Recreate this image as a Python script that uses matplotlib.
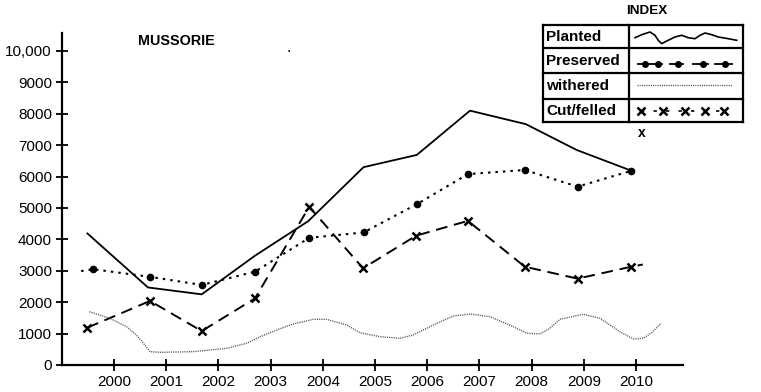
import matplotlib
matplotlib.use('Agg')
import matplotlib.pyplot as plt
from matplotlib.ticker import FuncFormatter

plt.rcParams['font.family'] = ['Liberation Sans', 'DejaVu Sans']

# values (x = position in years as drawn)
tick_years = list(range(2000, 2011))
y_ticks = list(range(0, 10001, 1000))

planted_x = [1999.49, 2000.65, 2001.68, 2002.70, 2003.72, 2004.78, 2005.80, 2006.82, 2007.89, 2008.86, 2009.89]
planted = [4190, 2470, 2250, 3480, 4580, 6300, 6690, 8100, 7670, 6850, 6200]

preserved_x = [1999.37, 1999.60, 2000.68, 2001.68, 2002.70, 2003.74, 2004.78, 2005.80, 2006.78, 2007.87, 2008.88, 2009.90]
preserved = [2990, 3050, 2810, 2550, 2970, 4050, 4220, 5120, 6080, 6210, 5680, 6180]

cut_x = [1999.49, 2000.69, 2001.68, 2002.70, 2003.74, 2004.77, 2005.79, 2006.78, 2007.87, 2008.88, 2009.91, 2010.13]
cut = [1190, 2040, 1080, 2120, 5040, 3080, 4120, 4590, 3130, 2750, 3130, 3200]

withered_x = [1999.53, 1999.92, 2000.24, 2000.43, 2000.59, 2000.69, 2000.88, 2001.52, 2002.16,
              2002.54, 2002.80, 2003.12, 2003.43, 2003.82, 2004.07, 2004.46, 2004.71, 2005.10,
              2005.48, 2005.73, 2006.12, 2006.50, 2006.82, 2007.20, 2007.65, 2007.91, 2008.16,
              2008.35, 2008.54, 2008.99, 2009.31, 2009.69, 2009.95, 2010.14, 2010.30, 2010.48]
withered = [1697, 1487, 1220, 955, 637, 424, 404, 424, 532,
            691, 901, 1115, 1306, 1455, 1455, 1274, 1029, 901,
            850, 955, 1275, 1560, 1625, 1540, 1220, 1010, 990,
            1170, 1455, 1615, 1490, 1060, 830, 850, 1030, 1330]

legend_labels = ['Planted', 'Preserved', 'withered', 'Cut/felled']

W, H = 761, 392
fig = plt.figure(figsize=(W / 100, H / 100), dpi=100)
ax = fig.add_axes([61.7 / W, 1 - 365 / H, (683 - 61.7) / W, (365 - 33) / H])
ax.set_xlim(1998.998, 2010.9)
ax.set_ylim(0, 10573)

ax.plot(planted_x, planted, color='black', lw=1.3)
ax.plot(preserved_x, preserved, color='black', lw=1.5, ls=(0, (1.2, 2.4)),
        marker='o', ms=4.5, markevery=list(range(1, len(preserved))))
ax.plot(cut_x, cut, color='black', lw=1.4, ls=(0, (6, 3.5)),
        marker='x', ms=6, mew=1.8, markevery=list(range(len(cut) - 1)))
ax.plot(withered_x, withered, color='#555555', lw=1.0, ls=(0, (0.8, 0.8)))

for s in ['top', 'right']:
    ax.spines[s].set_visible(False)
for s in ['left', 'bottom']:
    ax.spines[s].set_linewidth(1.6)

ax.set_xticks(tick_years)
ax.set_yticks(y_ticks)
ax.yaxis.set_major_formatter(FuncFormatter(lambda v, p: '{:,}'.format(int(v)) if v >= 10000 else str(int(v))))
ax.tick_params(direction='inout', length=8, width=1.3, labelsize=11, pad=3)

fig.text(176 / W, 1 - 41 / H, 'MUSSORIE', fontsize=10.4, fontweight='bold', ha='center', va='center')

# index table
lx0, lx1, ly0, ly1 = 542.7, 742.7, 25, 121.7
lax = fig.add_axes([lx0 / W, 1 - ly1 / H, (lx1 - lx0) / W, (ly1 - ly0) / H])
lax.set_xlim(lx0, lx1)
lax.set_ylim(ly1, ly0)
lax.axis('off')
rows = [25, 48.3, 72.7, 99, 121.7]
for r in rows:
    lax.plot([lx0, lx1], [r, r], color='black', lw=1.6, clip_on=False)
for c in [lx0, 629, lx1]:
    lax.plot([c, c], [ly0, ly1], color='black', lw=1.6, clip_on=False)
for i, lab in enumerate(legend_labels):
    lax.text(546, (rows[i] + rows[i + 1]) / 2 + 0.5, lab, fontsize=11, fontweight='bold', va='center')

wave_x = [635, 641.7, 650, 655, 658.3, 661.7, 666.7, 675, 681.7, 688.3, 695, 700, 705, 711.7, 718.3, 728.3, 736.7]
wave_y = [37.7, 34.7, 32, 35.3, 40.3, 43.7, 41, 37, 35.3, 37.7, 38.7, 35.3, 33, 34.7, 37, 38.7, 40.3]
lax.plot(wave_x, wave_y, color='black', lw=1.2)
for a, b in [(638, 662), (670, 683), (693, 708), (715, 732)]:
    lax.plot([a, b], [63.7, 63.7], color='black', lw=1.3)
lax.plot([645, 658.3, 678.3, 703.3, 725], [63.7] * 5, 'o', color='black', ms=4)
lax.plot([636.7, 731.7], [85.3, 85.3], color='#555555', lw=1.0, ls=(0, (0.8, 0.8)))
lax.plot([641, 724.3], [111.3, 111.3], color='black', lw=1.2, ls=(0, (2, 5.5)))
lax.plot([641, 663.3, 685, 705, 724.3], [111.3] * 5, 'x', color='black', ms=5.5, mew=1.8)

fig.text(646.7 / W, 1 - 11 / H, 'INDEX', fontsize=9.7, fontweight='bold', ha='center', va='center')
fig.text(641.7 / W, 1 - 133.3 / H, 'x', fontsize=10, fontweight='bold', ha='center', va='center')
fig.text(289 / W, 1 - 51 / H, '•', fontsize=5, ha='center', va='center')

fig.savefig('out.png', dpi=100)
